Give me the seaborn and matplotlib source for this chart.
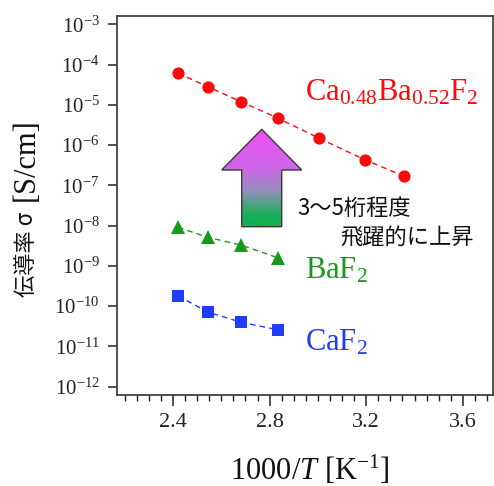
import numpy as np
import pandas as pd
import matplotlib
matplotlib.use("Agg")
import matplotlib.pyplot as plt
import seaborn as sns
from matplotlib.patches import Polygon
from matplotlib.colors import LinearSegmentedColormap
from matplotlib.ticker import MultipleLocator, NullLocator, FixedLocator

# ---- data ----
x_cabaf = [2.421, 2.545, 2.681, 2.833, 3.003, 3.195, 3.356]
sigma_cabaf = [6.1e-5, 2.8e-5, 1.2e-5, 4.7e-6, 1.5e-6, 4.3e-7, 1.7e-7]
x_baf = [2.421, 2.545, 2.681, 2.833]
sigma_baf = [9.1e-9, 5.1e-9, 3.3e-9, 1.6e-9]
x_caf = [2.421, 2.545, 2.681, 2.833]
sigma_caf = [1.8e-10, 7.1e-11, 4.0e-11, 2.6e-11]

y_exponents = [-3, -4, -5, -6, -7, -8, -9, -10, -11, -12]
x_ticks = [2.4, 2.8, 3.2, 3.6]
x_tick_labels = ["2.4", "2.8", "3.2", "3.6"]

label_cabaf = r"Ca$_{0.48}$Ba$_{0.52}$F$_2$"
label_baf = r"BaF$_2$"
label_caf = r"CaF$_2$"
note_line1 = "3〜5桁程度"
note_line2 = "飛躍的に上昇"
ylabel_jp = "伝導率 σ"
ylabel_unit = "[S/cm]"
xlabel = r"1000/$\mathit{T}$ [K$^{-1}$]"

# ---- style ----
sns.set_theme(style="ticks")
plt.rcParams["font.family"] = ["Liberation Serif", "Noto Sans CJK JP", "DejaVu Sans"]
plt.rcParams["mathtext.fontset"] = "custom"
plt.rcParams["mathtext.rm"] = "Liberation Serif"
plt.rcParams["mathtext.it"] = "Liberation Serif:italic"
plt.rcParams["mathtext.bf"] = "Liberation Serif:bold"

W, H = 494, 486
fig = plt.figure(figsize=(W / 100, H / 100), dpi=100)
ax_l, ax_r, ax_t, ax_b = 117, 493, 16, 395
ax = fig.add_axes([ax_l / W, 1 - ax_b / H, (ax_r - ax_l) / W, (ax_b - ax_t) / H])

red = "#ff0a0a"
green = "#179a1c"
blue = "#1f3cff"

series = [
    (x_cabaf, sigma_cabaf, red, "o", 8.8),
    (x_baf, sigma_baf, green, "^", 10.5),
    (x_caf, sigma_caf, blue, "s", 8.4),
]
for xs, ys, c, m, ms in series:
    sns.lineplot(x=xs, y=ys, ax=ax, color=c, marker=m, markersize=ms,
                 markeredgewidth=0, linewidth=1.0, linestyle=(0, (4, 3)),
                 zorder=4)

ax.set_yscale("log")

# ---- gradient arrow (axes-fraction coordinates) ----
def fx(px):
    return (px - ax_l) / (ax_r - ax_l)

def fy(py):
    return (ax_b - py) / (ax_b - ax_t)

tip = (261.7, 129.3)
hb = 170.0
hl, hr = 221.7, 301.7
sl, sr = 241.7, 281.7
bot = 226.7
verts = [(fx(tip[0]), fy(tip[1])), (fx(hr), fy(hb)), (fx(sr), fy(hb)),
         (fx(sr), fy(bot)), (fx(sl), fy(bot)), (fx(sl), fy(hb)),
         (fx(hl), fy(hb))]
poly = Polygon(verts, closed=True, transform=ax.transAxes, facecolor="none",
               edgecolor="#3a3a3a", linewidth=1.0, zorder=3)
ax.add_patch(poly)
cmap = LinearSegmentedColormap.from_list(
    "arrow", [(0.0, "#f24ff9"), (0.4, "#cc66e6"), (0.62, "#9a8cc0"),
              (0.88, "#18b058"), (1.0, "#10b050")])
grad = np.linspace(0, 1, 256).reshape(-1, 1)
im = ax.imshow(grad, extent=[fx(hl), fx(hr), fy(bot), fy(tip[1])],
               transform=ax.transAxes, cmap=cmap, aspect="auto",
               origin="upper", zorder=2.5, interpolation="bilinear")
im.set_clip_path(poly)

# ---- axes ----
ax.set_xlim(2.168, 3.725)
ax.set_ylim(10 ** -12.206, 10 ** -2.794)
ax.xaxis.set_major_locator(FixedLocator(x_ticks))
ax.set_xticklabels(x_tick_labels)
ax.xaxis.set_minor_locator(MultipleLocator(0.05))
ax.yaxis.set_major_locator(FixedLocator([10.0 ** e for e in y_exponents]))
ax.set_yticklabels([r"$10^{%d}$" % e for e in y_exponents])
ax.yaxis.set_minor_locator(NullLocator())
ax.tick_params(axis="x", which="major", length=8, width=1.1, pad=5,
               labelsize=16, colors="#222222")
ax.tick_params(axis="x", which="minor", length=4, width=1.0, colors="#222222")
ax.tick_params(axis="y", which="major", length=6.5, width=1.1, pad=6,
               labelsize=15, colors="#222222")
for s in ax.spines.values():
    s.set_color("#333333")
    s.set_linewidth(1.2)
ax.set_xlabel("")
ax.set_ylabel("")

# ---- texts ----
ax.text(fx(305), fy(100), label_cabaf, transform=ax.transAxes, color=red,
        fontsize=22, family="Liberation Serif", va="baseline", ha="left")
ax.text(fx(305), fy(278), label_baf, transform=ax.transAxes, color=green,
        fontsize=22, family="Liberation Serif", va="baseline", ha="left")
ax.text(fx(305), fy(350), label_caf, transform=ax.transAxes, color=blue,
        fontsize=22, family="Liberation Serif", va="baseline", ha="left")
ax.text(fx(297), fy(208.5), note_line1, transform=ax.transAxes, color="#111111",
        fontsize=16, family=["Noto Sans CJK JP", "DejaVu Sans"], va="center", ha="left")
ax.text(fx(340), fy(238.5), note_line2, transform=ax.transAxes, color="#111111",
        fontsize=16, family=["Noto Sans CJK JP", "DejaVu Sans"], va="center", ha="left")

fig.text(310 / W, 1 - 470 / H, xlabel, fontsize=22, family="Liberation Serif",
         ha="center", va="center", color="#111111")
fig.text(26 / W, 1 - 254 / H, ylabel_jp, fontsize=16, rotation=90,
         family=["Noto Sans CJK JP", "DejaVu Sans"], ha="center", va="center",
         color="#111111")
fig.text(26 / W, 1 - 160 / H, ylabel_unit, fontsize=22, rotation=90,
         family="Liberation Serif", ha="center", va="center", color="#111111")

fig.savefig("out.png", dpi=100)
